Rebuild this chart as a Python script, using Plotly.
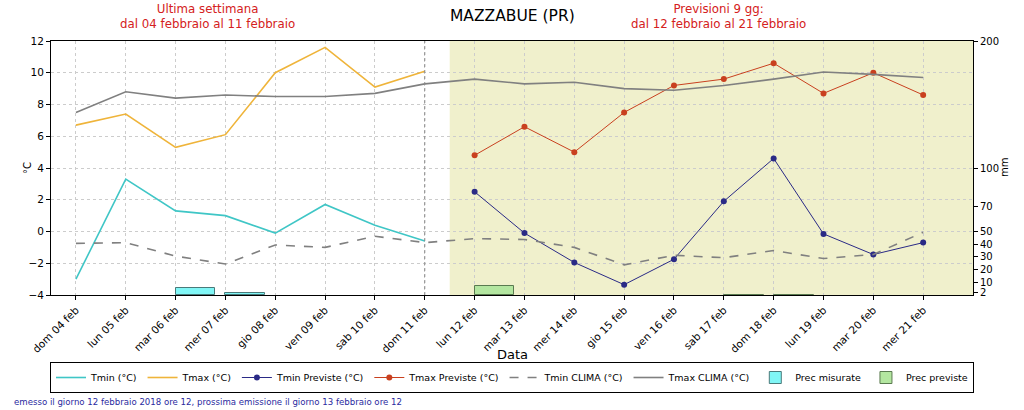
import plotly.graph_objects as go

dates_obs = ["2018-02-04", "2018-02-05", "2018-02-06", "2018-02-07", "2018-02-08",
             "2018-02-09", "2018-02-10", "2018-02-11"]
dates_fc = ["2018-02-12", "2018-02-13", "2018-02-14", "2018-02-15", "2018-02-16",
            "2018-02-17", "2018-02-18", "2018-02-19", "2018-02-20", "2018-02-21"]
dates_all = dates_obs + dates_fc
tick_labels = ["dom 04 feb", "lun 05 feb", "mar 06 feb", "mer 07 feb", "gio 08 feb",
               "ven 09 feb", "sab 10 feb", "dom 11 feb", "lun 12 feb", "mar 13 feb",
               "mer 14 feb", "gio 15 feb", "ven 16 feb", "sab 17 feb", "dom 18 feb",
               "lun 19 feb", "mar 20 feb", "mer 21 feb"]

tmin_obs = [-3.0, 3.3, 1.3, 1.0, -0.1, 1.7, 0.4, -0.6]
tmax_obs = [6.7, 7.4, 5.3, 6.1, 10.0, 11.6, 9.1, 10.1]
tmin_fc = [2.5, -0.1, -1.95, -3.35, -1.75, 1.9, 4.6, -0.15, -1.45, -0.7]
tmax_fc = [4.8, 6.6, 5.0, 7.5, 9.2, 9.6, 10.6, 8.7, 10.0, 8.6]
tmin_clima = [-0.75, -0.7, -1.55, -2.05, -0.85, -1.0, -0.3, -0.7,
              -0.45, -0.5, -1.0, -2.1, -1.5, -1.65, -1.2, -1.7, -1.45, -0.05]
tmax_clima = [7.5, 8.8, 8.4, 8.6, 8.5, 8.5, 8.7, 9.3,
              9.6, 9.3, 9.4, 9.0, 8.9, 9.2, 9.6, 10.05, 9.9, 9.7]
prec_obs = [None, None, 5.3, 1.2, None, None, None, None]
prec_fc = [7.0, None, None, None, None, 0.3, 0.3, None, None, None]

temp_ticks = [-4, -2, 0, 2, 4, 6, 8, 10, 12]
mm_ticks = [2, 10, 20, 30, 40, 50, 70, 100, 200]

FONT = "DejaVu Sans"
DAY_MS = 86400000

fig = go.Figure()

fig.add_trace(go.Scatter(x=dates_obs, y=tmin_obs, mode="lines", name="Tmin (°C)",
                         line=dict(color="#3fc6c6", width=1.6)))
fig.add_trace(go.Scatter(x=dates_obs, y=tmax_obs, mode="lines", name="Tmax (°C)",
                         line=dict(color="#efb43a", width=1.6)))
fig.add_trace(go.Scatter(x=dates_fc, y=tmin_fc, mode="lines+markers", name="Tmin Previste (°C)",
                         line=dict(color="#2a2a86", width=1),
                         marker=dict(color="#2a2a86", size=6)))
fig.add_trace(go.Scatter(x=dates_fc, y=tmax_fc, mode="lines+markers", name="Tmax Previste (°C)",
                         line=dict(color="#c9401f", width=1),
                         marker=dict(color="#c9401f", size=6)))
fig.add_trace(go.Scatter(x=dates_all, y=tmin_clima, mode="lines", name="Tmin CLIMA (°C)",
                         line=dict(color="#808080", width=1.6, dash="dash")))
fig.add_trace(go.Scatter(x=dates_all, y=tmax_clima, mode="lines", name="Tmax CLIMA (°C)",
                         line=dict(color="#808080", width=1.6)))
fig.add_trace(go.Bar(x=dates_obs, y=prec_obs, name="Prec misurate", yaxis="y2",
                     width=0.8 * DAY_MS, offset=0,
                     marker=dict(color="#80f6f6", line=dict(color="#4a7a7a", width=1))))
fig.add_trace(go.Bar(x=dates_fc, y=prec_fc, name="Prec previste", yaxis="y2",
                     width=0.8 * DAY_MS, offset=0,
                     marker=dict(color="#b3e6a0", line=dict(color="#5a7a50", width=1))))

# forecast shading
fig.add_shape(type="rect", xref="x", yref="paper", x0="2018-02-11 12:00", x1="2018-02-22",
              y0=0, y1=1, fillcolor="#f0f0cc", line=dict(width=0), layer="below")
fig.add_shape(type="line", xref="x", yref="paper", x0="2018-02-11", x1="2018-02-11",
              y0=0, y1=1, line=dict(color="#8a8a8a", width=1, dash="dot"))

fig.update_layout(
    width=1024, height=410,
    margin=dict(l=51, r=51, t=41, b=115, autoexpand=False),
    plot_bgcolor="white", paper_bgcolor="white",
    font=dict(family=FONT, size=11, color="black"),
    showlegend=True,
    bargap=0,
    legend=dict(orientation="h", xref="container", x=0.5, xanchor="center",
                yref="container", y=(410 - 362) / 410, yanchor="top",
                bordercolor="black", borderwidth=1, font=dict(size=9.5, family=FONT),
                traceorder="normal", itemwidth=30, bgcolor="white"),
    xaxis=dict(type="date", range=["2018-02-03 12:00", "2018-02-22"],
               tickvals=dates_all, ticktext=tick_labels, tickangle=-45,
               showgrid=True, gridcolor="#cccccc", griddash="dot", gridwidth=1,
               showline=True, linecolor="black", linewidth=1, mirror=True,
               ticks="outside", ticklen=4, tickcolor="black", automargin=False,
               tickfont=dict(size=10.5, family=FONT), zeroline=False),
    yaxis=dict(range=[-4, 12], tickvals=temp_ticks, showgrid=True, gridcolor="#cccccc",
               griddash="dot", gridwidth=1, showline=True, linecolor="black",
               linewidth=1, mirror=True, ticks="outside", ticklen=4, tickcolor="black",
               zeroline=False, automargin=False, tickfont=dict(size=10.5, family=FONT)),
    yaxis2=dict(range=[0, 200], overlaying="y", side="right", tickvals=mm_ticks,
                showgrid=False, showline=False, ticks="outside", ticklen=4,
                tickcolor="black", zeroline=False, automargin=False,
                tickfont=dict(size=10, family=FONT)),
)

fig.add_annotation(text="MAZZABUE (PR)", xref="paper", yref="paper", x=0.500, y=(295 - 16) / 254,
                   showarrow=False, font=dict(size=15.5, family=FONT, color="black"),
                   yanchor="middle", xanchor="center")
fig.add_annotation(text="Ultima settimana<br>dal 04 febbraio al 11 febbraio", xref="paper",
                   yref="paper", x=(207 - 51) / 922, y=(295 - 17) / 254, showarrow=False,
                   font=dict(size=11.8, family=FONT, color="#d42020"),
                   yanchor="middle", xanchor="center")
fig.add_annotation(text="Previsioni 9 gg:<br>dal 12 febbraio al 21 febbraio", xref="paper",
                   yref="paper", x=(718 - 51) / 922, y=(295 - 17) / 254, showarrow=False,
                   font=dict(size=11.8, family=FONT, color="#d42020"),
                   yanchor="middle", xanchor="center")
fig.add_annotation(text="°C", xref="paper", yref="paper", x=(27 - 51) / 922,
                   y=(295 - 168) / 254, showarrow=False, textangle=-90,
                   font=dict(size=10, family=FONT), xanchor="center", yanchor="middle")
fig.add_annotation(text="mm", xref="paper", yref="paper", x=(1004 - 51) / 922,
                   y=(295 - 168) / 254, showarrow=False, textangle=-90,
                   font=dict(size=10, family=FONT), xanchor="center", yanchor="middle")
fig.add_annotation(text="Data", xref="paper", yref="paper", x=0.5,
                   y=(295 - 354) / 254, showarrow=False,
                   font=dict(size=13, family=FONT), xanchor="center", yanchor="middle")
fig.add_annotation(text="emesso il giorno 12 febbraio 2018 ore 12, prossima emissione il giorno 13 febbraio ore 12",
                   xref="paper", yref="paper", x=(12 - 51) / 922, y=(295 - 402) / 254,
                   showarrow=False, font=dict(size=8.6, family=FONT, color="#2a2aa0"),
                   xanchor="left", yanchor="middle")

fig.write_html("out.html", config={"displayModeBar": False},
               post_script="document.body.style.margin='0';document.body.style.overflow='hidden';")
